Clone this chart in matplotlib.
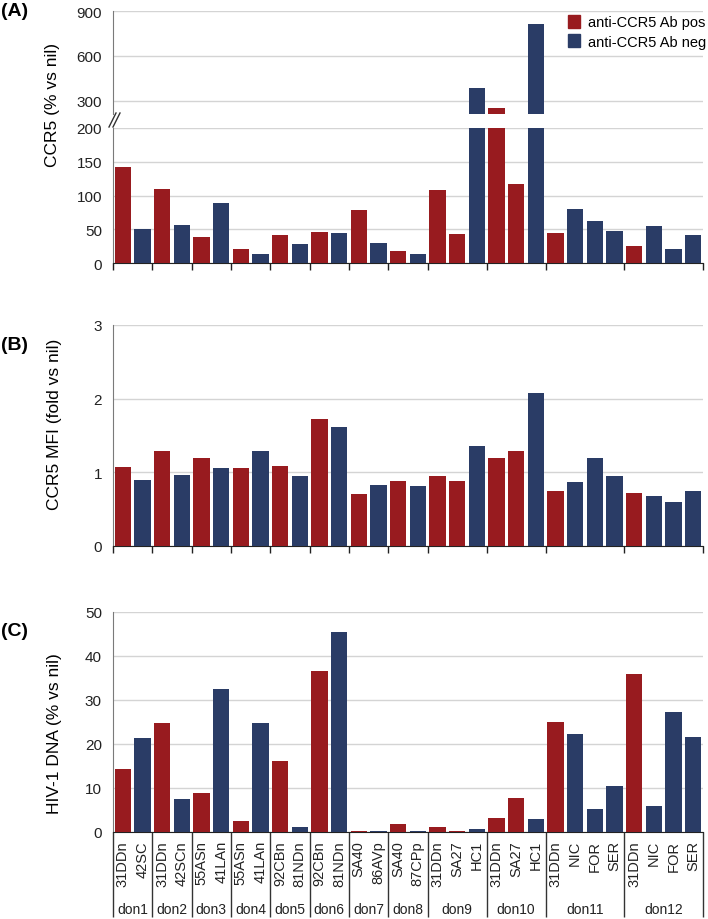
import numpy as np
import matplotlib.pyplot as plt
from matplotlib.patches import Patch

plt.rcParams['font.family'] = ['Liberation Sans', 'DejaVu Sans']

# sample labels, donors and Ab status
samples = ['31DDn', '42SC', '31DDn', '42SCn', '55ASn', '41LAn', '55ASn', '41LAn',
           '92CBn', '81NDn', '92CBn', '81NDn', 'SA40', '86AVp', 'SA40', '87CPp',
           '31DDn', 'SA27', 'HC1', '31DDn', 'SA27', 'HC1',
           '31DDn', 'NIC', 'FOR', 'SER', '31DDn', 'NIC', 'FOR', 'SER']
donors = ['don1', 'don2', 'don3', 'don4', 'don5', 'don6', 'don7', 'don8',
          'don9', 'don10', 'don11', 'don12']
donor_sizes = [2, 2, 2, 2, 2, 2, 2, 2, 3, 3, 4, 4]
ab_status = ['pos', 'neg', 'pos', 'neg', 'pos', 'neg', 'pos', 'neg',
             'pos', 'neg', 'pos', 'neg', 'pos', 'neg', 'pos', 'neg',
             'pos', 'pos', 'neg', 'pos', 'pos', 'neg',
             'pos', 'neg', 'neg', 'neg', 'pos', 'neg', 'neg', 'neg']

# panel values
ccr5_pct = [142, 50, 109, 57, 38, 89, 21, 13, 42, 28, 46, 45, 79, 30, 18, 13,
            108, 43, 383, 251, 117, 816, 45, 80, 62, 48, 25, 55, 21, 41]
ccr5_mfi = [1.07, 0.89, 1.29, 0.96, 1.19, 1.06, 1.05, 1.29, 1.08, 0.95, 1.72, 1.62,
            0.70, 0.82, 0.88, 0.81, 0.95, 0.88, 1.35, 1.19, 1.29, 2.08,
            0.74, 0.86, 1.19, 0.95, 0.72, 0.68, 0.60, 0.74]
hiv_dna = [14.2, 21.3, 24.7, 7.5, 8.8, 32.4, 2.5, 24.6, 16.1, 1.0, 36.6, 45.5,
           0.2, 0.15, 1.75, 0.1, 1.05, 0.15, 0.6, 3.2, 7.6, 3.0,
           24.9, 22.3, 5.2, 10.5, 35.9, 5.9, 27.3, 21.5]

RED = '#981b1f'
BLUE = '#2a3c66'
GRID = '#d4d4d4'
colors = [RED if s == 'pos' else BLUE for s in ab_status]
x = np.arange(len(samples))
bounds = np.concatenate([[0], np.cumsum(donor_sizes)]) - 0.5
bw = 0.83

W, H = 708, 920
fig = plt.figure(figsize=(W / 100, H / 100), dpi=100)


def px_axes(left, top, right, bottom):
    return fig.add_axes([left / W, 1 - bottom / H, (right - left) / W, (bottom - top) / H])


def style(ax, vals, yticks, ylim, xt=True):
    ax.bar(x, vals, width=bw, color=colors, zorder=3)
    ax.set_xlim(-0.5, len(samples) - 0.5)
    ax.set_ylim(*ylim)
    ax.set_yticks(yticks)
    ax.yaxis.grid(True, color=GRID, linewidth=1, zorder=0)
    ax.set_axisbelow(True)
    for s in ['top', 'right']:
        ax.spines[s].set_visible(False)
    ax.spines['left'].set_color('#7a7a7a')
    ax.spines['bottom'].set_color('#222222')
    ax.tick_params(axis='y', length=0, pad=8, labelsize=11, labelcolor='#222222')
    if xt:
        ax.set_xticks(bounds)
        ax.set_xticklabels([])
        ax.tick_params(axis='x', length=5, width=1, color='#222222')


L, R = 113, 703

# Panel A: broken axis
axA_hi = px_axes(L, 12.3, R, 115)
style(axA_hi, ccr5_pct, [300, 600, 900], (210, 900), xt=False)
axA_hi.spines['bottom'].set_visible(False)
axA_hi.set_xticks([])

axA = px_axes(L, 129, R, 264)
style(axA, ccr5_pct, [0, 50, 100, 150, 200], (0, 200))
fig.text(53 / W, 1 - 105 / H, 'CCR5 (% vs nil)', rotation=90, ha='center', va='center', fontsize=12.5)

# break marks
for dx in (0, 4):
    fig.add_artist(plt.Line2D([(109 + dx) / W, (116 + dx) / W], [1 - 128 / H, 1 - 114 / H],
                              color='#333333', linewidth=1))

fig.legend(handles=[Patch(color=RED, label='anti-CCR5 Ab pos'),
                    Patch(color=BLUE, label='anti-CCR5 Ab neg')],
           loc='upper left', bbox_to_anchor=(568 / W, 1 - 16 / H), frameon=False,
           fontsize=10.5, handlelength=0.85, handleheight=0.95, handletextpad=0.55,
           labelspacing=0.35, borderaxespad=0, borderpad=0)

# Panel B
axB = px_axes(L, 326, R, 546.7)
style(axB, ccr5_mfi, [0, 1, 2, 3], (0, 3))
fig.text(55 / W, 1 - 424 / H, 'CCR5 MFI (fold vs nil)', rotation=90, ha='center', va='center', fontsize=12.5)

# Panel C
axC = px_axes(L, 612.7, R, 832.7)
style(axC, hiv_dna, [0, 10, 20, 30, 40, 50], (0, 50), xt=False)
axC.set_xticks(x)
axC.set_xticklabels(samples, rotation=90, fontsize=10.5, color='#222222')
axC.tick_params(axis='x', which='major', length=0, pad=6)
axC.set_xticks(bounds, minor=True)
axC.tick_params(axis='x', which='minor', length=61, width=1, color='#333333')
for d, lo, hi in zip(donors, bounds[:-1], bounds[1:]):
    axC.text((lo + hi) / 2, -0.352, d, transform=axC.get_xaxis_transform(),
             ha='center', va='center', fontsize=10, color='#222222')
fig.text(55 / W, 1 - 734 / H, 'HIV-1 DNA (% vs nil)', rotation=90, ha='center', va='center', fontsize=12.5)

for lab, yy in [('(A)', 12), ('(B)', 346), ('(C)', 632)]:
    fig.text(1 / W, 1 - yy / H, lab, fontsize=14, fontweight='bold', ha='left', va='center')

fig.savefig('out.png', dpi=100)
